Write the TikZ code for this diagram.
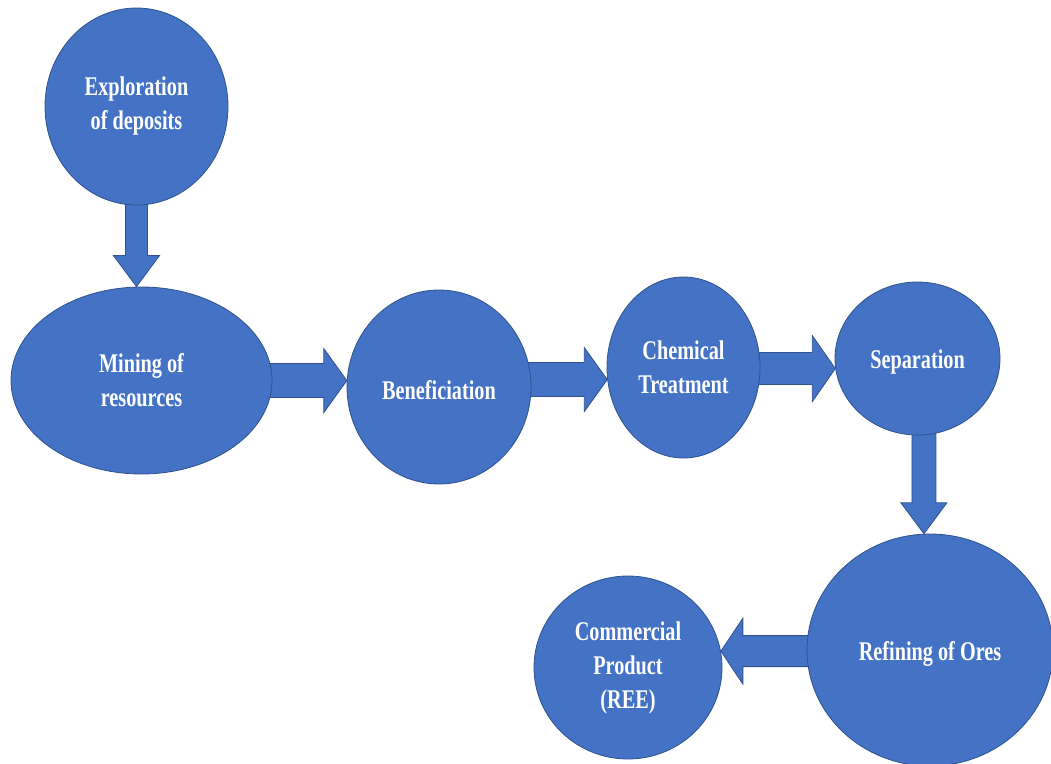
\documentclass[tikz,border=0pt]{standalone}
\usepackage{fontspec}
\setmainfont{Liberation Serif}[FakeStretch=0.75]
\usetikzlibrary{calc,shapes.geometric}

\definecolor{blockblue}{HTML}{4472C4}
\definecolor{edgeblue}{HTML}{2F528F}

\pgfdeclarelayer{bg}
\pgfsetlayers{bg,main}

% Block arrow: #1 shaft half-width, #2 head half-width, #3 head length,
% #4 tail point, #5 tip point
\newcommand\blockarrow[5]{%
  \coordinate (ba-t) at (#4);
  \coordinate (ba-p) at (#5);
  \coordinate (ba-c) at ($(ba-p)!#3!(ba-t)$);
  \draw[arrowbody]
    ($(ba-t)!#1!90:(ba-p)$) -- ($(ba-c)!#1!-90:(ba-t)$) --
    ($(ba-c)!#2!-90:(ba-t)$) -- (ba-p) --
    ($(ba-c)!#2!90:(ba-t)$) -- ($(ba-c)!#1!90:(ba-t)$) --
    ($(ba-t)!#1!-90:(ba-p)$) -- cycle;
}

\begin{document}
\begin{tikzpicture}[x=1pt,y=-1pt,
  stage/.style={ellipse, fill=blockblue, draw=edgeblue, line width=0.8pt,
    inner sep=0pt, text=white, align=center,
    font=\fontsize{27}{34}\selectfont\bfseries,
    % a tall strut on the first line sets the text a little low
    execute at begin node={\rule{0pt}{26pt}}},
  arrowbody/.style={fill=blockblue, draw=edgeblue, line width=0.8pt,
    line join=miter}]

\useasboundingbox (0,0) rectangle (1051,763);
\clip (0,0) rectangle (1051,763);

% process stages
\node[stage, minimum width=183pt, minimum height=197pt] (expl) at (136.5,106.5)
  {Exploration\\of deposits};
\node[stage, minimum width=261pt, minimum height=187pt] (mine) at (141.5,380.5)
  {Mining of\\resources};
\node[stage, minimum width=184pt, minimum height=194pt] (bene) at (439,387)
  {Beneficiation};
\node[stage, minimum width=153pt, minimum height=181pt] (chem) at (683.5,367.5)
  {Chemical\\Treatment};
\node[stage, minimum width=165pt, minimum height=153pt] (sep) at (917.5,358.5)
  {Separation};
\node[stage, minimum width=246pt, minimum height=232pt] (ref) at (930,650)
  {Refining of Ores};
\node[stage, minimum width=188pt, minimum height=183pt] (comm) at (628,667.5)
  {Commercial\\Product\\(REE)};

% flow arrows, drawn beneath the stages
\begin{pgfonlayer}{bg}
  \blockarrow{11pt}{23pt}{31pt}{expl.center}{expl.center |- mine.north}
  \blockarrow{17pt}{32pt}{23pt}{mine.center |- bene.176}{bene.176}
  \blockarrow{17pt}{32pt}{23pt}{bene.center |- chem.189}{chem.189}
  \blockarrow{16pt}{33pt}{23pt}{chem.center |- sep.187}{sep.187}
  \blockarrow{12pt}{23pt}{31pt}{sep.center -| ref.93}{ref.93}
  \blockarrow{15.5pt}{33pt}{22pt}{ref.center |- comm.10}{comm.10}
\end{pgfonlayer}
\end{tikzpicture}
\end{document}
